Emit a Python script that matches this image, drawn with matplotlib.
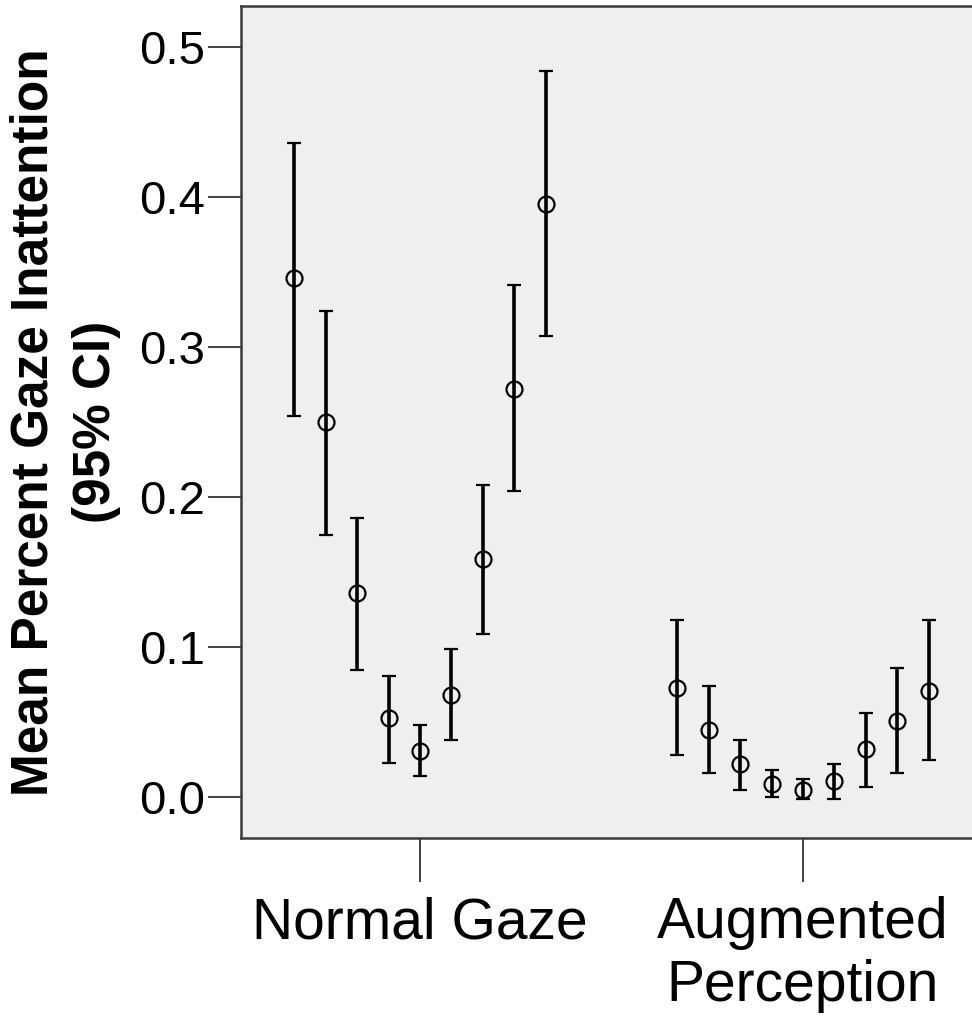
import matplotlib
matplotlib.use("Agg")
import matplotlib.pyplot as plt
import numpy as np

plt.rcParams['font.family'] = ['Liberation Sans', 'DejaVu Sans']

categories = ["Normal Gaze", "Augmented\nPerception"]
n_sub = 9

normal_mean = [0.346, 0.250, 0.136, 0.053, 0.031, 0.068, 0.159, 0.272, 0.395]
normal_low = [0.254, 0.175, 0.085, 0.023, 0.014, 0.038, 0.109, 0.204, 0.307]
normal_high = [0.436, 0.324, 0.186, 0.081, 0.048, 0.099, 0.208, 0.341, 0.484]

aug_mean = [0.073, 0.045, 0.022, 0.009, 0.005, 0.011, 0.032, 0.051, 0.071]
aug_low = [0.028, 0.016, 0.005, 0.000, -0.001, -0.001, 0.007, 0.016, 0.025]
aug_high = [0.118, 0.074, 0.038, 0.018, 0.012, 0.022, 0.056, 0.086, 0.118]

yticks = [0.0, 0.1, 0.2, 0.3, 0.4, 0.5]

W, H = 972, 1021
fig = plt.figure(figsize=(W / 100, H / 100), dpi=100)
ax = fig.add_axes([241 / W, 1 - 838 / H, (982 - 241) / W, (838 - 6) / H])
ax.set_facecolor('#efefef')

step = 0.0822
offsets = (np.arange(n_sub) - (n_sub - 1) / 2) * step

groups = [(normal_mean, normal_low, normal_high), (aug_mean, aug_low, aug_high)]
for gi, (m, lo, hi) in enumerate(groups):
    m = np.array(m); lo = np.array(lo); hi = np.array(hi)
    xs = gi + 1 + offsets
    ax.errorbar(xs, m, yerr=[m - lo, hi - m], fmt='o', color='black',
                ecolor='black', elinewidth=2.6, capsize=5, capthick=2.8,
                markersize=11.5, markerfacecolor='none', markeredgecolor='black',
                markeredgewidth=1.6, zorder=3)

ax.set_xlim(1 - (420 - 241) / 383, 2 + (982 - 803) / 383)
ax.set_ylim(-0.0273, 0.5273)
ax.set_xticks([1, 2])
ax.set_xticklabels(categories, fontsize=41, linespacing=1.2)
ax.set_yticks(yticks)
ax.set_yticklabels([f"{v:.1f}" for v in yticks], fontsize=34)
ax.tick_params(axis='x', length=32, width=1.3, pad=10, color='#333333')
ax.tick_params(axis='y', length=24, width=1.3, pad=2, color='#333333')

for side in ['left', 'bottom', 'top', 'right']:
    ax.spines[side].set_color('#3a3a3a')
    ax.spines[side].set_linewidth(1.8)

ax.set_ylabel("Mean Percent Gaze Inattention\n(95% CI)", fontsize=37,
              fontweight='bold', labelpad=13, linespacing=1.35)

fig.savefig("out.png", dpi=100, facecolor='white')
